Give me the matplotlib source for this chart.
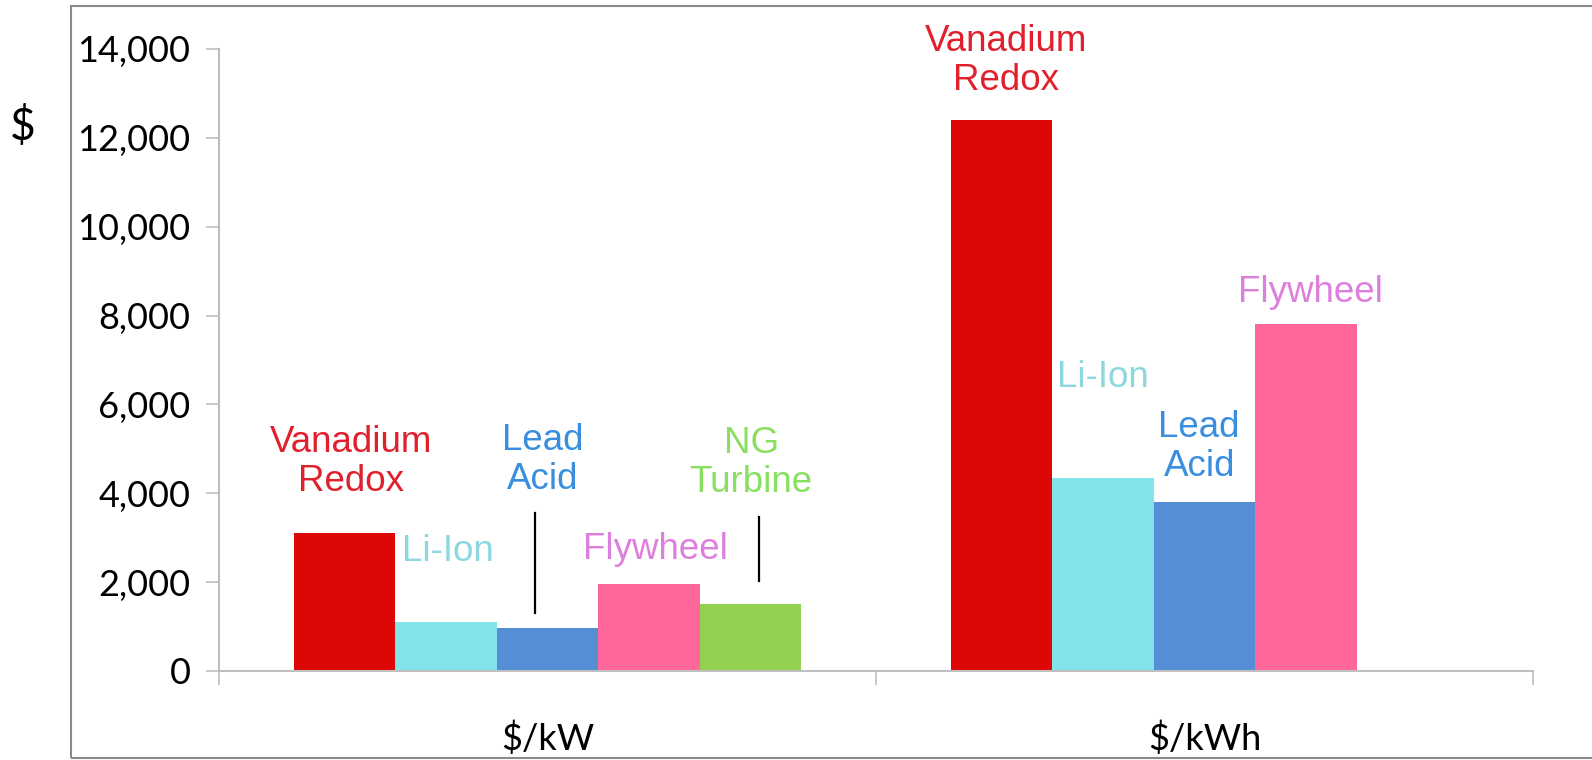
import numpy as np
import matplotlib
matplotlib.use('Agg')
import matplotlib.pyplot as plt
from matplotlib.patches import Rectangle

# data
categories = ['$/kW', '$/kWh']
series = ['Vanadium\nRedox', 'Li-Ion', 'Lead\nAcid', 'Flywheel', 'NG\nTurbine']
vanadium = [3100, 12400]
li_ion = [1100, 4350]
lead_acid = [960, 3800]
flywheel = [1950, 7800]
ng_turbine = [1500, np.nan]
yticks = [0, 2000, 4000, 6000, 8000, 10000, 12000, 14000]

bar_colors = ['#DD0806', '#83E3EA', '#558ED5', '#FF6699', '#92D050']
text_colors = ['#E0202C', '#8CD8DE', '#3A8EE0', '#DD80DD', '#88E060']

W, H = 1592, 760
fig = plt.figure(figsize=(W / 100, H / 100), dpi=100, facecolor='w')
ax = fig.add_axes([219 / W, (H - 671) / H, (1533 - 219) / W, (671 - 49) / H])

# outer frame of the slide chart
fig.patches.append(Rectangle((71 / W, 2 / H), 1.2, (754 - 2) / H,
                             transform=fig.transFigure, fill=False,
                             edgecolor='#8a8a8a', lw=1.5, zorder=0))

x = np.arange(len(categories))
width = 0.1545
allvals = [vanadium, li_ion, lead_acid, flywheel, ng_turbine]
for i, vals in enumerate(allvals):
    ax.bar(x + (i - 2) * width, vals, width, color=bar_colors[i], zorder=2)

ax.set_xlim(-0.5, 1.5)
ax.set_ylim(0, 14000)
ax.set_yticks(yticks)
ax.set_yticklabels(['{:,}'.format(v) for v in yticks])
ax.set_xticks([-0.5, 0.5, 1.5])
ax.set_xticklabels([])

for s in ['top', 'right']:
    ax.spines[s].set_visible(False)
for s in ['left', 'bottom']:
    ax.spines[s].set_color('#bfbfbf')
    ax.spines[s].set_linewidth(1.5)
ax.tick_params(axis='y', length=9.5, width=1.2, color='#bfbfbf',
               labelsize=26, pad=11)
ax.tick_params(axis='x', length=10, width=1.2, color='#bfbfbf')
for lab in ax.get_yticklabels():
    lab.set_fontfamily('Lato')

# category names near the bottom edge of the picture
for xi, c in zip(x, categories):
    fig.text((219 + (xi + 0.5) * 657) / W, 10 / H, c, ha='center',
             va='baseline', fontsize=26, family='Lato')
fig.text(23 / W, 633 / H, '$', ha='center', va='center', fontsize=32,
         family='Lato')

# series labels placed next to the bars
labels = [
    (-0.299, 4712, 0), (-0.151, 2683, 1), (-0.007, 4757, 2),
    (0.164, 2728, 3), (0.310, 4689, 4),
    (0.698, 13729, 0), (0.846, 6600, 1), (0.992, 5050, 2), (1.162, 8521, 3),
]
for lx, ly, k in labels:
    ax.text(lx, ly, series[k], color=text_colors[k], ha='center',
            va='center', fontsize=26.5, family='Liberation Sans',
            linespacing=1.15)

ax.plot([-0.019, -0.019], [1307, 3562], color='k', lw=1.6)
ax.plot([0.322, 0.322], [2029, 3472], color='k', lw=1.6)

fig.savefig('out.png', dpi=100, facecolor='w')
